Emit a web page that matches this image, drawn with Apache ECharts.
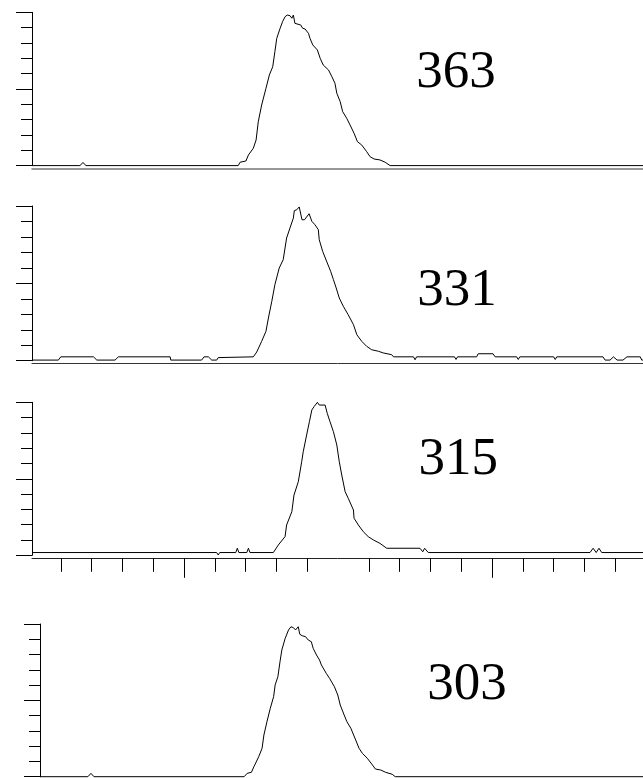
<!DOCTYPE html>
<html>
<head>
<meta charset="utf-8">
<script src="https://cdn.jsdelivr.net/npm/echarts@6/dist/echarts.min.js"></script>
<style>
html,body{margin:0;padding:0;background:#fff;}
#chart{width:643px;height:778px;}
</style>
</head>
<body>
<div id="chart"></div>
<script>
// x range (time units) shared by all traces
const X_MIN = 5.065;
const X_MAX = 24.9;
// panel labels (m/z)
const labels = ['363', '331', '315', '303'];
// x-axis tick values for the third panel
const shortTicks = [6, 7, 8, 9, 11, 12, 13, 14, 16, 17, 18, 19, 21, 22, 23, 24];
const longTicks = [10, 20];

// traces: [x, relative intensity %]
const trace363 = [[5.065,0],[6.62,0],[6.72,2.0],[6.82,0],[11.76,0],[11.82,2.2],[12.01,3.0],[12.09,6.9],[12.25,11.3],[12.34,16.7],[12.41,28.6],[12.52,39.5],[12.66,50.4],[12.77,59.1],[12.88,64.5],[12.95,74.3],[13.01,83.0],[13.12,89.6],[13.20,93.9],[13.28,97.1],[13.35,98.2],[13.44,97.8],[13.50,96.1],[13.55,98.2],[13.60,92.8],[13.66,92.2],[13.79,91.7],[13.85,89.6],[13.93,89.1],[14.04,86.3],[14.09,83.0],[14.18,78.7],[14.33,75.4],[14.42,70.0],[14.52,65.6],[14.69,62.4],[14.80,58.0],[14.90,53.7],[14.96,47.2],[15.07,41.7],[15.15,35.2],[15.28,30.9],[15.39,26.5],[15.52,21.1],[15.63,15.6],[15.77,13.4],[15.93,9.1],[16.04,5.8],[16.17,4.3],[16.36,3.7],[16.53,2.2],[16.69,0],[24.9,0]];

const trace331 = [[5.065,0.4],[5.92,0.4],[6.00,2.5],[7.06,2.5],[7.17,0.4],[7.76,0.4],[7.87,2.5],[9.55,2.5],[9.57,0.4],[10.57,0.4],[10.65,2.5],[10.79,2.5],[10.90,0.4],[11.06,0.4],[11.11,2.0],[11.17,2.5],[12.25,2.5],[12.36,5.6],[12.52,12.5],[12.66,19.0],[12.74,27.6],[12.85,38.4],[12.95,49.1],[13.09,59.9],[13.22,65.3],[13.33,79.3],[13.44,85.8],[13.55,92.2],[13.58,97.0],[13.66,97.6],[13.74,99.4],[13.83,91.1],[13.91,91.1],[14.06,95.0],[14.15,90.1],[14.25,87.9],[14.36,84.7],[14.39,78.2],[14.50,70.7],[14.65,63.2],[14.76,57.8],[14.85,52.4],[14.94,47.0],[15.04,40.5],[15.17,35.2],[15.33,29.7],[15.50,23.3],[15.61,16.8],[15.77,12.5],[15.93,9.3],[16.09,7.1],[16.31,6.1],[16.47,5.0],[16.74,3.9],[16.80,2.5],[17.45,2.5],[17.50,0.6],[17.55,2.5],[18.78,2.5],[18.83,0.8],[18.88,2.5],[19.50,2.5],[19.55,4.5],[20.03,4.5],[20.10,2.5],[20.80,2.5],[20.85,0.8],[20.90,2.5],[22.00,2.5],[22.05,0.8],[22.10,2.5],[23.60,2.5],[23.67,0.4],[23.83,0.4],[23.94,2.5],[24.06,0.4],[24.25,0.4],[24.38,2.5],[24.81,2.5],[24.86,0.4],[24.9,0.4]];

const trace315 = [[5.065,1.8],[11.06,1.8],[11.11,0.2],[11.16,1.8],[11.68,1.8],[11.73,4.6],[11.78,1.8],[12.04,1.8],[12.09,4.6],[12.14,1.8],[12.90,1.8],[13.06,6.7],[13.28,12.2],[13.33,19.8],[13.50,28.5],[13.57,39.4],[13.71,48.1],[13.82,61.2],[13.87,67.7],[13.98,78.6],[14.07,87.3],[14.15,95.0],[14.22,97.1],[14.33,100],[14.39,98.2],[14.58,98.2],[14.65,92.8],[14.74,87.3],[14.85,80.8],[14.96,72.1],[15.04,61.2],[15.12,52.5],[15.23,41.6],[15.33,37.3],[15.50,29.6],[15.52,24.2],[15.66,19.8],[15.82,15.4],[15.98,12.2],[16.15,10.0],[16.36,7.8],[16.58,4.6],[17.66,4.6],[17.75,2.3],[17.81,4.6],[17.93,1.8],[23.18,1.8],[23.28,4.6],[23.38,1.8],[23.47,4.6],[23.56,1.8],[24.9,1.8]];

const trace303 = [[5.065,0],[6.64,0],[6.74,2.2],[6.84,0],[11.78,0],[11.88,2.2],[12.02,2.9],[12.10,6.5],[12.26,13.1],[12.37,18.6],[12.43,27.3],[12.53,36.0],[12.64,44.8],[12.75,52.4],[12.80,60.1],[12.89,65.5],[12.96,75.3],[13.02,83.0],[13.13,90.6],[13.24,96.1],[13.32,98.2],[13.40,97.6],[13.47,96.1],[13.56,98.2],[13.61,93.3],[13.69,92.3],[13.80,91.7],[13.89,89.5],[13.99,88.4],[14.05,84.1],[14.16,79.7],[14.26,76.4],[14.32,73.2],[14.48,67.7],[14.59,64.4],[14.75,58.9],[14.86,53.5],[14.94,47.0],[15.07,40.4],[15.16,36.0],[15.29,31.7],[15.45,24.0],[15.56,18.6],[15.67,15.3],[15.83,12.1],[16.00,7.7],[16.10,5.0],[16.27,4.4],[16.43,2.9],[16.65,1.6],[16.75,0],[24.9,0]];

const traces = [trace363, trace331, trace315, trace303];

const grids = [
  {left: 32, top: 12.3, width: 611, height: 153.3},
  {left: 32, top: 206, width: 611, height: 154.7},
  {left: 32, top: 402.3, width: 611, height: 153},
  {left: 40, top: 624, width: 611, height: 152.7}
];
const xOffsets = [3.5, 2.6, 3, 3];
const xColors = ['#777', '#333', '#222', '#777'];
const labelPos = [[456, 73], [457, 291.3], [458.3, 460], [467, 685]];

const chart = echarts.init(document.getElementById('chart'), null, {renderer: 'canvas'});

const xAxes = [];
const yAxes = [];
const series = [];
grids.forEach((g, i) => {
  const xi = xAxes.length;
  xAxes.push({
    gridIndex: i, type: 'value', position: 'bottom', min: X_MIN, max: X_MAX, offset: xOffsets[i],
    axisLine: {show: true, onZero: false, lineStyle: {color: xColors[i], width: i === 0 ? 1.5 : 1}},
    axisTick: i === 2 ? {show: true, customValues: shortTicks, length: 13.5, lineStyle: {color: '#000'}} : {show: false},
    axisLabel: {show: false}, splitLine: {show: false}
  });
  if (i === 2) {
    xAxes.push({
      gridIndex: i, type: 'value', position: 'bottom', min: X_MIN, max: X_MAX, offset: xOffsets[i],
      axisLine: {show: false, onZero: false},
      axisTick: {show: true, customValues: longTicks, length: 19.5, lineStyle: {color: '#000'}},
      axisLabel: {show: false}, splitLine: {show: false}
    });
  }
  yAxes.push({
    gridIndex: i, type: 'value', min: 0, max: 100, interval: 50,
    axisLine: {show: true, onZero: false, lineStyle: {color: '#000', width: 1}},
    axisTick: {show: true, length: 16, lineStyle: {color: '#000'}},
    minorTick: {show: true, splitNumber: 5, length: 11, lineStyle: {color: '#000'}},
    axisLabel: {show: false}, splitLine: {show: false}, minorSplitLine: {show: false}
  });
  series.push({
    type: 'line', xAxisIndex: xi, yAxisIndex: i, data: traces[i],
    showSymbol: false, symbol: 'none', smooth: false, clip: false,
    lineStyle: {color: '#000', width: 1}, animation: false, silent: true
  });
});

chart.setOption({
  animation: false,
  backgroundColor: '#fff',
  grid: grids,
  xAxis: xAxes,
  yAxis: yAxes,
  series: series,
  graphic: labels.map((t, i) => ({
    type: 'text', x: labelPos[i][0], y: labelPos[i][1], silent: true,
    style: {text: t, fill: '#000', font: '53px "Liberation Serif", "Times New Roman", serif', align: 'center', verticalAlign: 'middle'}
  }))
});
</script>
</body>
</html>
